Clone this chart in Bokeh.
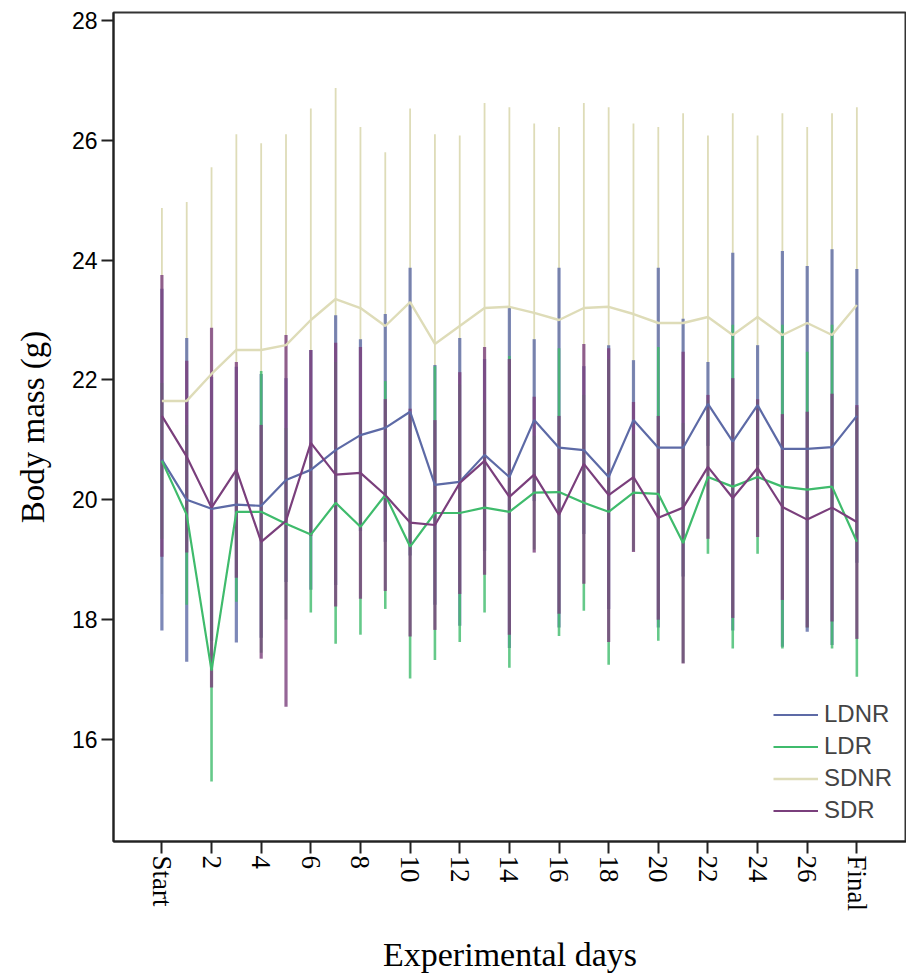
import math
from bokeh.plotting import figure
from bokeh.models import ColumnDataSource, FixedTicker, Legend, LegendItem, Range1d
from bokeh.embed import file_html
from bokeh.resources import INLINE

# ---------------- data ----------------
days = ["Start"] + [str(i) for i in range(1, 28)] + ["Final"]
tick_days = ["Start", "2", "4", "6", "8", "10", "12", "14", "16", "18", "20", "22", "24", "26", "Final"]
y_ticks = [16, 18, 20, 22, 24, 26, 28]

groups = ["LDNR", "LDR", "SDNR", "SDR"]

ldnr_mean = [20.67, 20.0, 19.85, 19.92, 19.9, 20.33, 20.5, 20.83, 21.08, 21.2, 21.47, 20.25, 20.3, 20.75, 20.38,
             21.33, 20.87, 20.83, 20.38, 21.33, 20.87, 20.87, 21.6, 20.97, 21.58, 20.85, 20.85, 20.88, 21.4]
ldnr_err = [2.85, 2.7, 2.2, 2.3, 2.2, 1.7, 2.0, 2.25, 1.6, 1.9, 2.4, 2.0, 2.4, 1.6, 2.85,
            1.35, 3.0, 1.4, 2.2, 1.0, 3.0, 2.15, 0.7, 3.15, 1.0, 3.3, 3.05, 3.3, 2.45]

ldr_mean = [20.65, 19.75, 17.15, 19.8, 19.8, 19.6, 19.42, 19.95, 19.55, 20.08, 19.22, 19.78, 19.78, 19.87, 19.8,
            20.12, 20.13, 19.95, 19.8, 20.12, 20.1, 19.28, 20.38, 20.22, 20.38, 20.22, 20.17, 20.22, 19.3]
ldr_err = [1.3, 1.5, 1.85, 1.5, 2.35, 1.6, 1.3, 2.35, 1.8, 1.9, 2.2, 2.45, 2.15, 1.75, 2.6,
           0.95, 2.4, 1.8, 2.55, 0.97, 2.45, 2.0, 1.28, 2.7, 1.28, 2.7, 2.3, 2.7, 2.25]

sdnr_mean = [21.65, 21.65, 22.1, 22.5, 22.5, 22.58, 23.0, 23.35, 23.2, 22.9, 23.3, 22.6, 22.9, 23.2, 23.22,
             23.12, 23.0, 23.2, 23.22, 23.1, 22.95, 22.95, 23.05, 22.75, 23.05, 22.75, 22.95, 22.75, 23.25]
sdnr_err = [3.22, 3.32, 3.45, 3.6, 3.45, 3.52, 3.53, 3.52, 3.02, 2.9, 3.23, 3.5, 3.18, 3.42, 3.33,
            3.16, 3.22, 3.42, 3.33, 3.18, 3.27, 3.5, 3.03, 3.7, 3.03, 3.7, 3.27, 3.7, 3.3]

sdr_mean = [21.4, 20.72, 19.87, 20.5, 19.3, 19.65, 20.95, 20.42, 20.45, 20.08, 19.62, 19.58, 20.28, 20.65, 20.05,
            20.42, 19.75, 20.6, 20.08, 20.38, 19.7, 19.87, 20.55, 20.03, 20.53, 19.88, 19.67, 19.87, 19.63]
sdr_err = [2.35, 1.6, 3.0, 1.8, 1.95, 3.1, 1.55, 2.2, 2.1, 1.6, 1.9, 1.75, 1.85, 1.9, 2.3,
           1.3, 1.65, 2.0, 2.45, 1.25, 1.7, 2.6, 1.2, 2.0, 1.15, 1.55, 1.8, 1.9, 1.95]

series = {
    "LDNR": (ldnr_mean, ldnr_err, "#5d6aa6", 3.2, 2.2, 0.8),
    "LDR": (ldr_mean, ldr_err, "#3fbb6c", 2.6, 2.2, 0.8),
    "SDNR": (sdnr_mean, sdnr_err, "#dedcb8", 1.8, 2.4, 1.0),
    "SDR": (sdr_mean, sdr_err, "#7a3f7c", 3.2, 2.2, 0.8),
}

# ---------------- figure ----------------
x_pos = list(range(len(days)))

p = figure(width=906, height=976, output_backend="svg", toolbar_location=None,
           x_range=Range1d(-1.95, 30.0), y_range=Range1d(14.3, 28.13),
           min_border_left=113, min_border_right=0, min_border_top=12, min_border_bottom=134)

p.background_fill_color = "white"
p.border_fill_color = "white"
p.xgrid.visible = False
p.ygrid.visible = False
p.outline_line_color = "#333333"
p.outline_line_width = 2

# error bars: SDNR at the back
order = ["SDNR", "LDNR", "LDR", "SDR"]
for g in order:
    m, e, c, bw, lw, a = series[g]
    src = ColumnDataSource(dict(x=x_pos, lo=[u - v for u, v in zip(m, e)], hi=[u + v for u, v in zip(m, e)]))
    p.segment(x0="x", y0="lo", x1="x", y1="hi", source=src, line_color=c, line_width=bw, line_alpha=a)

renderers = {}
for g in order:
    m, e, c, bw, lw, a = series[g]
    src = ColumnDataSource(dict(x=x_pos, y=m))
    renderers[g] = p.line(x="x", y="y", source=src, line_color=c, line_width=lw)

# axes
p.xaxis.ticker = FixedTicker(ticks=[days.index(t) for t in tick_days])
p.xaxis.major_label_overrides = {days.index(t): t for t in tick_days}
p.xaxis.major_label_orientation = -math.pi / 2
p.xaxis.major_label_text_font = "Liberation Serif"
p.xaxis.major_label_text_font_size = "27px"
p.xaxis.major_label_text_color = "black"
p.xaxis.major_label_standoff = 2
p.xaxis.axis_label = "Experimental days"
p.xaxis.axis_label_text_font = "Liberation Serif"
p.xaxis.axis_label_text_font_size = "34px"
p.xaxis.axis_label_text_font_style = "normal"
p.xaxis.axis_label_text_color = "black"
p.xaxis.axis_label_standoff = 22

p.yaxis.ticker = FixedTicker(ticks=y_ticks)
p.yaxis.major_label_text_font = "Liberation Sans"
p.yaxis.major_label_text_font_size = "23px"
p.yaxis.major_label_text_color = "black"
p.yaxis.major_label_standoff = 4
p.yaxis.axis_label = "Body mass (g)"
p.yaxis.axis_label_text_font = "Liberation Serif"
p.yaxis.axis_label_text_font_size = "33px"
p.yaxis.axis_label_text_font_style = "normal"
p.yaxis.axis_label_text_color = "black"
p.yaxis.axis_label_standoff = 18

for ax in (p.xaxis, p.yaxis):
    ax.axis_line_color = "#222222"
    ax.axis_line_width = 2
    ax.major_tick_line_color = "#222222"
    ax.major_tick_line_width = 2
    ax.major_tick_out = 12
    ax.major_tick_in = 0
    ax.minor_tick_line_color = None

legend = Legend(items=[LegendItem(label=g, renderers=[renderers[g]]) for g in groups],
                location=(660, 17), background_fill_alpha=0, border_line_color=None,
                label_text_font="Liberation Sans", label_text_font_size="24px",
                glyph_width=45, glyph_height=27, label_height=27, spacing=4, padding=4,
                label_standoff=6)
p.add_layout(legend, "center")

open("out.html", "w").write(file_html(p, INLINE))
